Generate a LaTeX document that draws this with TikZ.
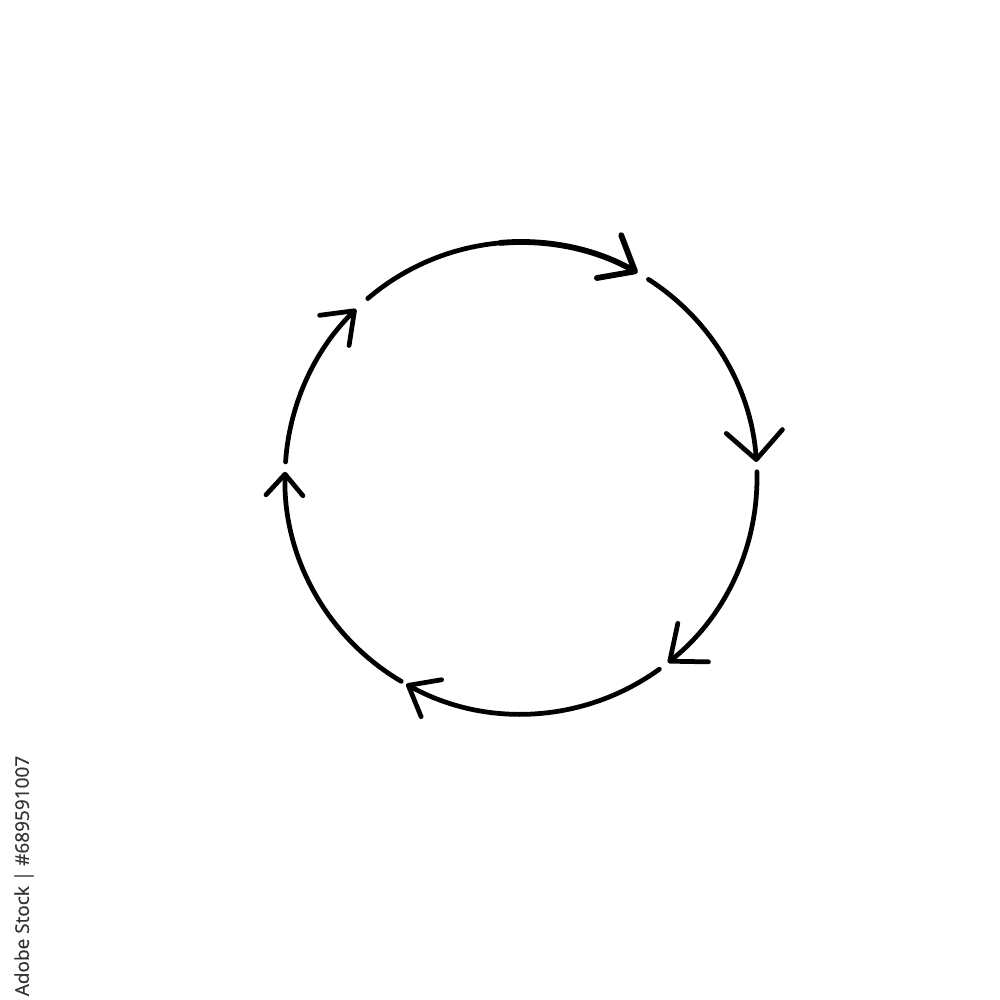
\documentclass[tikz,border=0pt]{standalone}
\usepackage{fontspec}
\newfontfamily\creditfont[FakeBold=0.6]{Open Sans}
\usetikzlibrary{arrows.meta}
\begin{document}
\begin{tikzpicture}[x=0.01cm,y=0.01cm,
  ring/.style={line width=1.35pt,line cap=round},
  thickring/.style={line width=1.65pt,line cap=round},
  barb/.style 2 args={-{Straight Barb[length=#1pt,width=#2pt,line cap=round,line join=round]}}]
\useasboundingbox (0,0) rectangle (1000,1000);
\coordinate (c) at (521,522);
% arc 1 (top), thin start then thicker
\draw[ring] (c) ++(130.5:236) arc[start angle=130.5,end angle=94,radius=236];
\draw[thickring,barb={8.5}{14}] (c) ++(95:236) arc[start angle=95,end angle=60.4,radius=236];
% arc 2 (upper right)
\draw[ring,barb={8}{16}] (c) ++(57.3:236) arc[start angle=57.3,end angle=3.9,radius=236];
% arc 3 (lower right)
\draw[ring,barb={8.5}{14}] (c) ++(1.5:236) arc[start angle=1.5,end angle=-51.5,radius=236];
% arc 4 (bottom)
\draw[ring,barb={7.5}{12}] (c) ++(-54.1:236) arc[start angle=-54.1,end angle=-119.1,radius=236];
% arc 5 (lower left)
\draw[ring,barb={6}{10.5}] (c) ++(-120.5:236) arc[start angle=-120.5,end angle=-181.5,radius=236];
% arc 6 (upper left)
\draw[ring,barb={8}{12}] (c) ++(176.1:236) arc[start angle=176.1,end angle=134.3,radius=236];
% credit line
\node[rotate=90,text=black!80,inner sep=0pt,font=\creditfont\fontsize{5.4}{6}\selectfont] (credit) at (24,124) {Adobe Stock | \#689591007};
\end{tikzpicture}
\end{document}
